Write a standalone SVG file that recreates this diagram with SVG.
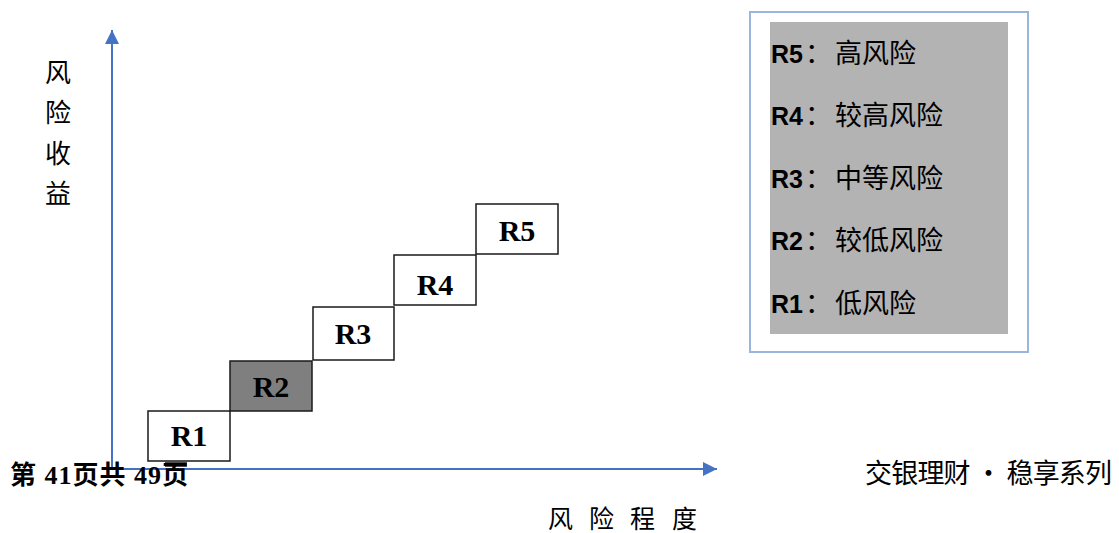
<svg xmlns="http://www.w3.org/2000/svg" width="1119" height="533" viewBox="0 0 1119 533">
<style>
.box{fill:#ffffff;stroke:#1a1a1a;stroke-width:1.5}
.box.dark{fill:#7f7f7f}
.blab{font-family:"Liberation Serif","Times New Roman",serif;font-weight:bold;font-size:30px;fill:#000;text-anchor:middle}
.axis{stroke:#4472c4;stroke-width:2;fill:none}
.cjk{font-family:"Noto Sans CJK SC",sans-serif;fill:#000}
.leg{font-family:"Liberation Sans","Noto Sans CJK SC",sans-serif;font-size:25px;fill:#000}
.leg .r{font-weight:bold}
.leg .c{font-family:"Noto Sans CJK SC",sans-serif;font-size:27px}
.foot{font-family:"Liberation Serif","Noto Sans CJK SC",serif;font-weight:bold;font-size:26px;fill:#000}
</style>
<defs>
<marker id="arr" markerUnits="userSpaceOnUse" markerWidth="16" markerHeight="16" refX="14" refY="7" orient="auto">
<path d="M0,0 L14,7 L0,14 Z" fill="#4472c4"/>
</marker>
</defs>
<rect width="1119" height="533" fill="#ffffff"/>

<g id="connectors">
<line class="axis" x1="112" y1="469" x2="112" y2="30" marker-end="url(#arr)"/>
<line class="axis" x1="112" y1="469" x2="717" y2="469" marker-end="url(#arr)"/>
</g>

<g id="y-label" class="cjk" font-size="26" text-anchor="middle">
<text x="58" y="82">风</text>
<text x="58" y="122">险</text>
<text x="58" y="163">收</text>
<text x="58" y="203">益</text>
</g>

<g id="x-label" class="cjk" font-size="25">
<text x="548 572 589 613 630 654 672" y="528">风 险 程 度</text>
</g>

<g id="R1"><rect class="box" x="148" y="411" width="82" height="50"/><text class="blab" x="189" y="446">R1</text></g>
<g id="R2"><rect class="box dark" x="230" y="361" width="82" height="50"/><text class="blab" x="271" y="397">R2</text></g>
<g id="R3"><rect class="box" x="313" y="307" width="81" height="53"/><text class="blab" x="353" y="344">R3</text></g>
<g id="R4"><rect class="box" x="394" y="255" width="82" height="50"/><text class="blab" x="435" y="295">R4</text></g>
<g id="R5"><rect class="box" x="476" y="204" width="82" height="50"/><text class="blab" x="517" y="241">R5</text></g>

<g id="legend">
<rect x="750" y="12" width="278" height="340" fill="#ffffff" stroke="#9ab6dc" stroke-width="2"/>
<rect x="770" y="22" width="238" height="312" fill="#b3b3b3"/>
<text class="leg" x="771" y="63"><tspan class="r">R5</tspan><tspan class="c" dx="2">：</tspan><tspan class="c" dx="3">高风险</tspan></text>
<text class="leg" x="771" y="125"><tspan class="r">R4</tspan><tspan class="c" dx="2">：</tspan><tspan class="c" dx="3">较高风险</tspan></text>
<text class="leg" x="771" y="188"><tspan class="r">R3</tspan><tspan class="c" dx="2">：</tspan><tspan class="c" dx="3">中等风险</tspan></text>
<text class="leg" x="771" y="250"><tspan class="r">R2</tspan><tspan class="c" dx="2">：</tspan><tspan class="c" dx="3">较低风险</tspan></text>
<text class="leg" x="771" y="313"><tspan class="r">R1</tspan><tspan class="c" dx="2">：</tspan><tspan class="c" dx="3">低风险</tspan></text>
</g>

<rect x="165" y="461" width="22" height="6" fill="#4d4d4d"/>
<g id="footer-left"><text class="foot" x="10" y="484" textLength="178" lengthAdjust="spacing">第 41页共 49页</text></g>
<g id="footer-right"><text class="cjk" x="865" y="483" font-size="27" textLength="247" lengthAdjust="spacing">交银理财 • 稳享系列</text></g>
</svg>
